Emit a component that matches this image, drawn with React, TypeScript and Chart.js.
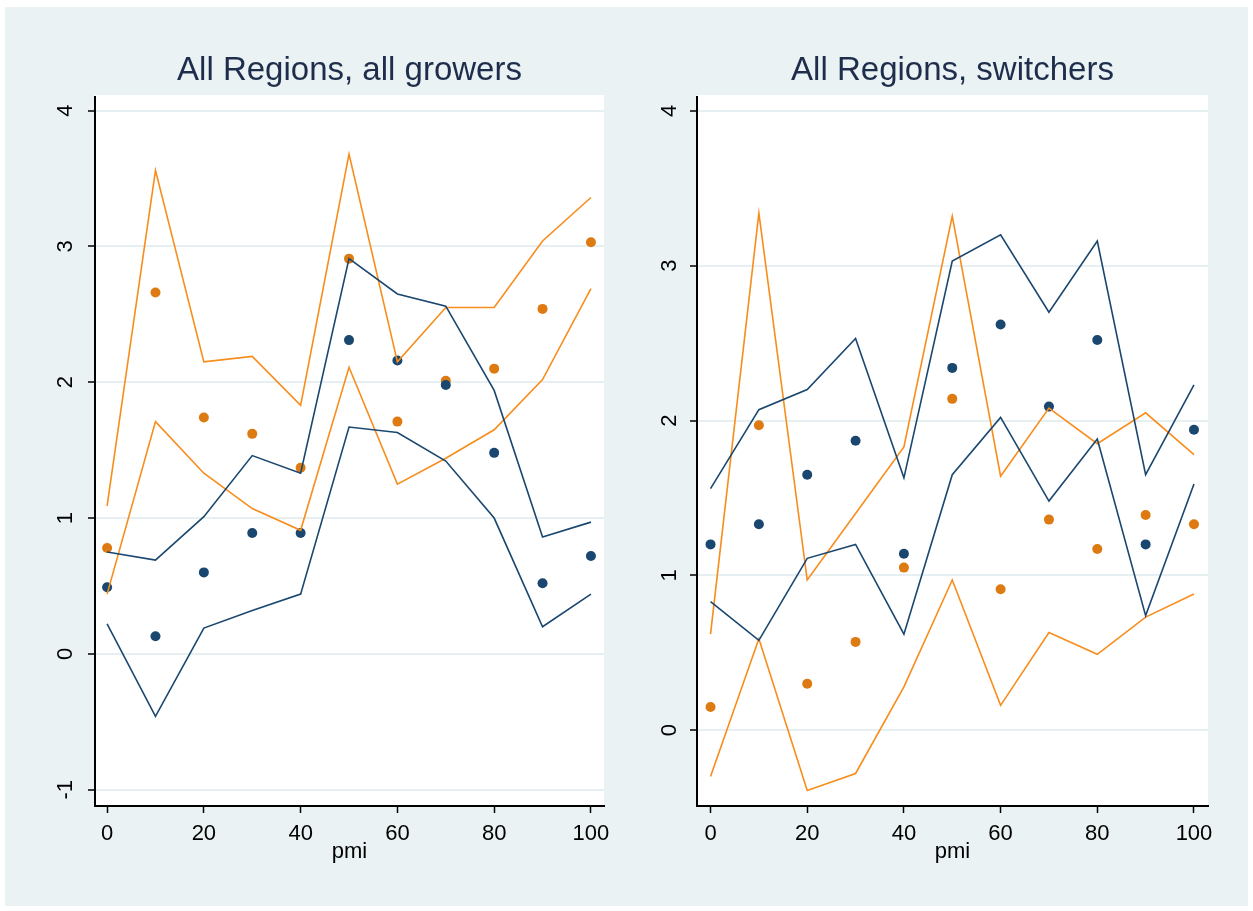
import React, { useEffect, useRef } from 'react';
import { Chart, registerables } from 'chart.js';

Chart.register(...registerables);

const pmi = [0, 10, 20, 30, 40, 50, 60, 70, 80, 90, 100];
const xTickStep = 20;
const yTickStep = 1;

// Left panel: All Regions, all growers
const leftNavyMean = [0.49, 0.13, 0.6, 0.89, 0.89, 2.31, 2.16, 1.98, 1.48, 0.52, 0.72];
const leftNavyUpper = [0.75, 0.69, 1.01, 1.46, 1.33, 2.91, 2.65, 2.56, 1.94, 0.86, 0.97];
const leftNavyLower = [0.22, -0.46, 0.19, 0.32, 0.44, 1.67, 1.63, 1.42, 1.0, 0.2, 0.44];
const leftOrangeMean = [0.78, 2.66, 1.74, 1.62, 1.37, 2.91, 1.71, 2.01, 2.1, 2.54, 3.03];
const leftOrangeUpper = [1.09, 3.56, 2.15, 2.19, 1.83, 3.68, 2.15, 2.55, 2.55, 3.04, 3.36];
const leftOrangeLower = [0.44, 1.71, 1.33, 1.07, 0.91, 2.11, 1.25, 1.44, 1.65, 2.02, 2.69];

// Right panel: All Regions, switchers
const rightNavyMean = [1.2, 1.33, 1.65, 1.87, 1.14, 2.34, 2.62, 2.09, 2.52, 1.2, 1.94];
const rightNavyUpper = [1.56, 2.07, 2.2, 2.53, 1.63, 3.03, 3.2, 2.7, 3.16, 1.65, 2.23];
const rightNavyLower = [0.83, 0.58, 1.11, 1.2, 0.62, 1.65, 2.02, 1.48, 1.88, 0.74, 1.59];
const rightOrangeMean = [0.15, 1.97, 0.3, 0.57, 1.05, 2.14, 0.91, 1.36, 1.17, 1.39, 1.33];
const rightOrangeUpper = [0.62, 3.34, 0.97, 1.4, 1.83, 3.32, 1.64, 2.08, 1.85, 2.05, 1.78];
const rightOrangeLower = [-0.3, 0.59, -0.39, -0.28, 0.28, 0.97, 0.16, 0.63, 0.49, 0.73, 0.88];

const NAVY = '#1a476f';
const ORANGE_LINE = '#f88d1c';
const ORANGE_DOT = '#dd7a12';
const BG = '#eaf2f3';
const GRID = '#e6eff1';
const TITLE = '#1f2d4d';
const FONT = '"Liberation Sans", Arial, sans-serif';

const toPts = (ys: number[]) => pmi.map((x, i) => ({ x, y: ys[i] }));

const whiteArea = {
  id: 'whiteArea',
  beforeDraw(chart: any) {
    const { ctx, chartArea } = chart;
    ctx.save();
    ctx.fillStyle = '#ffffff';
    ctx.fillRect(chartArea.left, chartArea.top - 2, chartArea.right - chartArea.left, chartArea.bottom - chartArea.top + 2);
    ctx.restore();
  },
};

type PanelProps = {
  title: string;
  width: number;
  left: number;
  yAxisWidth: number;
  padRight: number;
  yMin: number;
  yMax: number;
  xMin: number;
  xMax: number;
  yPad: number;
  navyMean: number[];
  navyUpper: number[];
  navyLower: number[];
  orangeMean: number[];
  orangeUpper: number[];
  orangeLower: number[];
};

function Panel(p: PanelProps) {
  const ref = useRef<HTMLCanvasElement | null>(null);
  useEffect(() => {
    if (!ref.current) return;
    const line = (data: number[], color: string) => ({
      data: toPts(data),
      borderColor: color,
      backgroundColor: color,
      borderWidth: 1.6,
      pointRadius: 0,
      tension: 0,
      fill: false,
    });
    const dots = (data: number[], color: string) => ({
      data: toPts(data),
      borderColor: color,
      backgroundColor: color,
      showLine: false,
      pointRadius: 5,
      pointBorderWidth: 0,
    });
    const chart = new Chart(ref.current, {
      type: 'line',
      data: {
        datasets: [
          line(p.navyUpper, NAVY),
          line(p.navyLower, NAVY),
          line(p.orangeUpper, ORANGE_LINE),
          line(p.orangeLower, ORANGE_LINE),
          dots(p.navyMean, NAVY),
          dots(p.orangeMean, ORANGE_DOT),
        ] as any,
      },
      options: {
        responsive: false,
        animation: false,
        devicePixelRatio: 1,
        layout: { padding: { left: 0, right: p.padRight, top: 0, bottom: 0 } },
        plugins: {
          legend: { display: false },
          tooltip: { enabled: false },
          title: {
            display: true,
            text: p.title,
            fullSize: false,
            color: TITLE,
            font: { family: FONT, size: 33, weight: 'normal', lineHeight: 1.2 },
            padding: { top: 51, bottom: 6.4 },
          },
        },
        scales: {
          x: {
            type: 'linear',
            min: p.xMin,
            max: p.xMax,
            afterFit(scale: any) {
              scale.height = 105;
            },
            ticks: {
              stepSize: xTickStep,
              includeBounds: false,
              color: '#000',
              font: { family: FONT, size: 22 },
              padding: 8,
              maxRotation: 0,
              minRotation: 0,
            },
            grid: {
              drawOnChartArea: false,
              drawTicks: true,
              tickLength: 7,
              tickColor: '#000',
              tickWidth: 1.5,
            },
            border: { display: true, color: '#000', width: 2 },
            title: {
              display: true,
              text: 'pmi',
              color: '#000',
              font: { family: FONT, size: 22 },
              padding: { top: 0, bottom: 46 },
            },
          },
          y: {
            type: 'linear',
            min: p.yMin,
            max: p.yMax,
            afterFit(scale: any) {
              scale.width = p.yAxisWidth;
            },
            ticks: {
              stepSize: yTickStep,
              includeBounds: false,
              color: '#000',
              font: { family: FONT, size: 22 },
              minRotation: 90,
              maxRotation: 90,
              crossAlign: 'center',
              padding: p.yPad,
            },
            grid: {
              color: GRID,
              lineWidth: 2,
              drawTicks: true,
              tickLength: 7,
              tickColor: '#000',
              tickWidth: 1.5,
            },
            border: { display: true, color: '#000', width: 2 },
          },
        },
      } as any,
      plugins: [whiteArea],
    });
    return () => chart.destroy();
  }, []);
  return (
    <canvas
      ref={ref}
      width={p.width}
      height={911}
      style={{ position: 'absolute', left: p.left, top: 0, width: p.width, height: 911 }}
    />
  );
}

export default function App() {
  return (
    <div style={{ position: 'absolute', left: 0, top: 0, width: 1253, height: 911, background: '#ffffff', overflow: 'hidden' }}>
      <div style={{ position: 'absolute', left: 5, top: 7, right: 5, bottom: 5, background: BG }} />
      <Panel
        title="All Regions, all growers"
        width={628}
        left={0}
        yAxisWidth={95}
        padRight={24}
        yMin={-1.12}
        yMax={4.1}
        xMin={-2.5}
        xMax={102.7}
        yPad={12}
        navyMean={leftNavyMean}
        navyUpper={leftNavyUpper}
        navyLower={leftNavyLower}
        orangeMean={leftOrangeMean}
        orangeUpper={leftOrangeUpper}
        orangeLower={leftOrangeLower}
      />
      <Panel
        title="All Regions, switchers"
        width={625}
        left={628}
        yAxisWidth={69}
        padRight={45}
        yMin={-0.49}
        yMax={4.09}
        xMin={-2.8}
        xMax={102.9}
        yPad={14}
        navyMean={rightNavyMean}
        navyUpper={rightNavyUpper}
        navyLower={rightNavyLower}
        orangeMean={rightOrangeMean}
        orangeUpper={rightOrangeUpper}
        orangeLower={rightOrangeLower}
      />
    </div>
  );
}
